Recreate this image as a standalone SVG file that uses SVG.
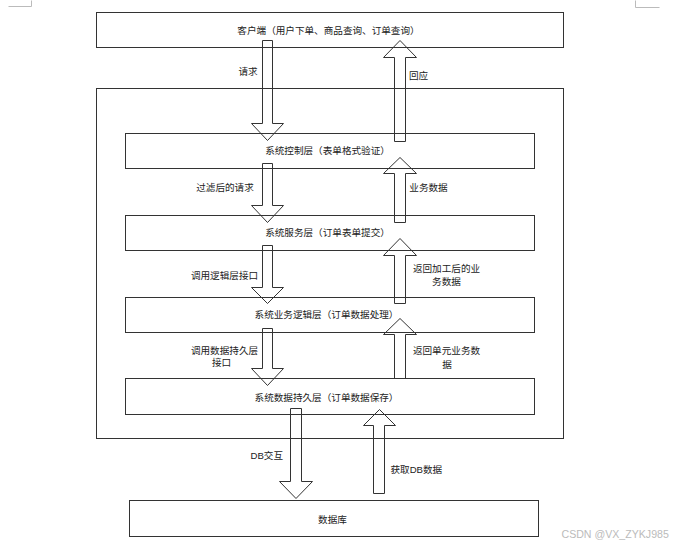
<svg xmlns="http://www.w3.org/2000/svg" width="683" height="548" viewBox="0 0 683 548">
<style>
.box{fill:none;stroke:#333;stroke-width:1}
.arr{fill:none;stroke:#333;stroke-width:1;stroke-linejoin:miter}
.mark{fill:none;stroke:#bbb;stroke-width:1}
text{font-family:"Liberation Sans","Noto Sans CJK SC",sans-serif;font-size:9.6px;fill:#222}
.c{text-anchor:middle}
.wm{font-size:10.6px;fill:#bbb}
</style>
<rect width="683" height="548" fill="#fff"/>
<g transform="translate(0.5 0.5)">
<g id="cropmarks">
<polyline class="mark" points="8,6 31,6 31,0"/>
<polyline class="mark" points="635,0 635,7 659,7"/>
</g>
<g id="system">
<rect class="box" x="96" y="88" width="467" height="350"/>
</g>
<g id="client">
<rect class="box" x="96" y="12" width="467" height="35"/>
<text class="c" x="328" y="33">客户端（用户下单、商品查询、订单查询）</text>
</g>
<g id="control">
<rect class="box" x="125" y="133" width="409" height="35"/>
<text class="c" x="327" y="153">系统控制层（表单格式验证）</text>
</g>
<g id="service">
<rect class="box" x="125" y="215" width="409" height="35"/>
<text class="c" x="327" y="235">系统服务层（订单表单提交）</text>
</g>
<g id="logic">
<rect class="box" x="125" y="297" width="409" height="35"/>
<text class="c" x="326" y="317.5">系统业务逻辑层（订单数据处理）</text>
</g>
<g id="persistence">
<rect class="box" x="125" y="378" width="409" height="36"/>
<text class="c" x="326" y="400">系统数据持久层（订单数据保存）</text>
</g>
<g id="database">
<rect class="box" x="129" y="500" width="409" height="36"/>
<text class="c" x="332" y="522">数据库</text>
</g>
<g id="connectors">
<path class="arr" d="M262 40 H272 V123 H283 L267 140 L251 123 H262 Z"/>
<path class="arr" d="M394 141 V57 H383 L399.5 40 L416 57 H405 V141 Z"/>
<path class="arr" d="M262 163 H272 V205 H283 L267 222 L251 205 H262 Z"/>
<path class="arr" d="M394 222 V173 H383 L399.5 157 L416 173 H405 V222 Z"/>
<path class="arr" d="M262 245 H272 V287 H283 L267 303 L251 287 H262 Z"/>
<path class="arr" d="M394 303 V255 H383 L399.5 238 L416 255 H405 V303 Z"/>
<path class="arr" d="M262 328 H272 V368 H283 L267 385 L251 368 H262 Z"/>
<path class="arr" d="M394 378 V334 H383 L399.5 318 L416 334 H405 V378 Z"/>
<path class="arr" d="M290 408 H301 V481 H312 L295.5 498 L279 481 H290 Z"/>
<path class="arr" d="M373 493 V425 H363 L379 409 L395 425 H384 V493 Z"/>
<text class="c" x="247.5" y="74.5">请求</text>
<text class="c" x="418" y="78.5">回应</text>
<text class="c" x="224.5" y="190">过滤后的请求</text>
<text class="c" x="428" y="190.5">业务数据</text>
<text class="c" x="224" y="278.5">调用逻辑层接口</text>
<text class="c" x="446" y="271">返回加工后的业</text>
<text class="c" x="446" y="284">务数据</text>
<text class="c" x="224" y="353.5">调用数据持久层</text>
<text class="c" x="221" y="365">接口</text>
<text class="c" x="446" y="353.5">返回单元业务数</text>
<text class="c" x="446.5" y="367">据</text>
<text x="250" y="458.5">DB交互</text>
<text x="390" y="472">获取DB数据</text>
</g>
<text class="wm" x="561" y="537">CSDN @VX_ZYKJ985</text>
</g>
</svg>
